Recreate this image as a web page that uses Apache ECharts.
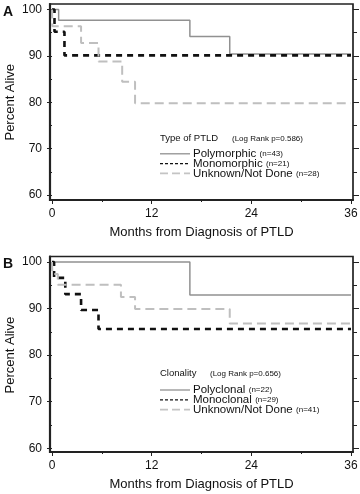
<!DOCTYPE html>
<html><head><meta charset="utf-8">
<script src="https://cdn.jsdelivr.net/npm/echarts@6/dist/echarts.min.js"></script>
<style>html,body{margin:0;padding:0;background:#fff}#c{width:360px;height:494px}</style>
</head><body><div id="c"></div>
<script>
// ---- Data ----
// Panel A: Type of PTLD
const polyA_t = [0, 0.8, 16.6, 21.4, 36];
const polyA_s = [100, 97.7, 94.2, 90.4, 90.4];
const monoA_t = [0, 0.3, 1.5, 36];
const monoA_s = [100, 95.2, 90.1, 90.1];
const unkA_t = [0, 0.05, 3.5, 5.6, 8.45, 10.0, 36];
const unkA_s = [100, 96.4, 92.8, 88.8, 84.4, 79.8, 79.8];
// Panel B: Clonality
const polyB_t = [0, 16.6, 36];
const polyB_s = [100, 92.9, 92.9];
const monoB_t = [0, 0.25, 1.6, 3.5, 5.6, 36];
const monoB_s = [100, 96.6, 93.1, 89.7, 85.6, 85.6];
const unkB_t = [0, 0.05, 0.7, 8.3, 10.0, 21.4, 36];
const unkB_s = [100, 97.4, 95.1, 92.5, 89.9, 86.8, 86.8];
// Legend text
const namesA = ['Polymorphic', 'Monomorphic', 'Unknown/Not Done'];
const countsA = ['(n=43)', '(n=21)', '(n=28)'];
const namesB = ['Polyclonal', 'Monoclonal', 'Unknown/Not Done'];
const countsB = ['(n=22)', '(n=29)', '(n=41)'];
const titleA = 'Type of PTLD', pvalA = '(Log Rank p=0.586)';
const titleB = 'Clonality', pvalB = '(Log Rank p=0.656)';
const xTitle = 'Months from Diagnosis of PTLD';
const yTitle = 'Percent Alive';
const xMin = 0, xMax = 36, xInterval = 12;
const yMin = 60, yMax = 100, yInterval = 10;

const FONT = '"Liberation Sans", Arial, Helvetica, sans-serif';
const pair = (t, s) => t.map((v, i) => [v, s[i]]);

const styles = [
  { color: '#919191', width: 1.5, type: 'solid' },
  { color: '#111111', width: 2.6, type: [6, 5] },
  { color: '#bfbfbf', width: 2, type: [9, 5] }
];
const legendStyles = [
  { stroke: '#919191', lineWidth: 1.3, lineDash: null },
  { stroke: '#111111', lineWidth: 1.3, lineDash: [3, 2] },
  { stroke: '#c4c4c4', lineWidth: 1.8, lineDash: [8, 4] }
];

// panel layout (pixels)
const panels = [
  { top: 9.5, height: 185.5, frameTop: 4, frameBot: 200 },
  { top: 262, height: 186.3, frameTop: 256.5, frameBot: 452 }
];
const gLeft = 52, gWidth = 299, frameL = 50, frameR = 353;

const grids = panels.map(p => ({ left: gLeft, top: p.top, width: gWidth, height: p.height, containLabel: false, outerBoundsMode: 'none' }));

const xAxes = panels.map((p, i) => ({
  type: 'value', gridIndex: i, min: xMin, max: xMax, interval: xInterval,
  position: 'bottom', offset: p.frameBot - (p.top + p.height),
  axisLine: { show: false },
  axisTick: { show: true, length: 4, lineStyle: { color: '#222', width: 1 } },
  minorTick: { show: true, splitNumber: 2, length: 2, lineStyle: { color: '#222', width: 1 } },
  splitLine: { show: false },
  axisLabel: { fontSize: 12, color: '#111', fontFamily: FONT, margin: 8 },
  name: xTitle, nameLocation: 'middle', nameGap: 26, nameMoveOverlap: false,
  nameTextStyle: { fontSize: 13, color: '#111', fontFamily: FONT }
}));

const yAxes = [];
panels.forEach((p, i) => {
  yAxes.push({
    type: 'value', gridIndex: i, min: yMin, max: yMax, interval: yInterval,
    position: 'left', offset: gLeft - frameL,
    axisLine: { show: false },
    axisTick: { show: true, length: 5, lineStyle: { color: '#222', width: 1 } },
    minorTick: { show: true, splitNumber: 2, length: 3, lineStyle: { color: '#222', width: 1 } },
    splitLine: { show: false },
    axisLabel: { fontSize: 12, color: '#111', fontFamily: FONT, margin: 8 },
    name: yTitle, nameLocation: 'middle', nameGap: 33, nameMoveOverlap: false,
    nameTextStyle: { fontSize: 13, color: '#111', fontFamily: FONT }
  });
  yAxes.push({
    type: 'value', gridIndex: i, min: yMin, max: yMax, interval: yInterval,
    position: 'right', offset: frameR - (gLeft + gWidth),
    axisLine: { show: false },
    axisTick: { show: true, length: 6, lineStyle: { color: '#222', width: 1 } },
    minorTick: { show: true, splitNumber: 2, length: 4, lineStyle: { color: '#222', width: 1 } },
    splitLine: { show: false },
    axisLabel: { show: false }
  });
});

const dataSets = [
  [pair(polyA_t, polyA_s), pair(monoA_t, monoA_s), pair(unkA_t, unkA_s)],
  [pair(polyB_t, polyB_s), pair(monoB_t, monoB_s), pair(unkB_t, unkB_s)]
];
const nameSets = [namesA, namesB];
const series = [];
const drawOrder = [2, 0, 1];
dataSets.forEach((ds, pi) => {
  drawOrder.forEach(k => {
    series.push({
      type: 'line', name: nameSets[pi][k], step: 'end',
      xAxisIndex: pi, yAxisIndex: pi * 2,
      data: ds[k], symbol: 'none', clip: false, silent: true,
      lineStyle: { color: styles[k].color, width: styles[k].width, type: styles[k].type },
      z: 2 + k
    });
  });
});

// legend + frames as graphic elements
const graphic = [];
const legendCfg = [
  { titleY: 138, pvalX: 232, rows: [153.8, 163.6, 173.4], names: namesA, counts: countsA, title: titleA, pval: pvalA, label: 'A', labelY: 12 },
  { titleY: 373.5, pvalX: 210, rows: [390, 399.8, 409.6], names: namesB, counts: countsB, title: titleB, pval: pvalB, label: 'B', labelY: 264 }
];
panels.forEach((p, i) => {
  const L = legendCfg[i];
  graphic.push({ type: 'rect', z: 10, shape: { x: frameL, y: p.frameTop, width: frameR - frameL, height: p.frameBot - p.frameTop },
    style: { fill: 'none', stroke: '#222', lineWidth: 1.7 } });
  graphic.push({ type: 'line', z: 10, shape: { x1: frameL, y1: p.frameTop - 0.8, x2: frameL, y2: p.frameBot + 1 }, style: { stroke: '#222', lineWidth: 2.2 } });
  graphic.push({ type: 'line', z: 10, shape: { x1: frameL - 1, y1: p.frameBot, x2: frameR + 0.8, y2: p.frameBot }, style: { stroke: '#222', lineWidth: 2.2 } });
  graphic.push({ type: 'text', z: 10, style: { text: L.label, x: 3, y: L.labelY, verticalAlign: 'middle', font: 'bold 14px ' + FONT, fill: '#111' } });
  graphic.push({ type: 'text', z: 10, style: { text: L.title, x: 160, y: L.titleY, verticalAlign: 'middle', font: '9.5px ' + FONT, fill: '#111' } });
  graphic.push({ type: 'text', z: 10, style: { text: L.pval, x: L.pvalX, y: L.titleY + 0.5, verticalAlign: 'middle', font: '8px ' + FONT, fill: '#111' } });
  L.rows.forEach((ry, k) => {
    graphic.push({ type: 'line', z: 10, shape: { x1: 160, y1: ry, x2: 190, y2: ry },
      style: { stroke: legendStyles[k].stroke, lineWidth: legendStyles[k].lineWidth, lineDash: legendStyles[k].lineDash } });
    graphic.push({ type: 'text', z: 10, style: {
      text: '{a|' + L.names[k] + '} {b|' + L.counts[k] + '}', x: 193, y: ry, verticalAlign: 'middle',
      rich: { a: { fontSize: 11.5, lineHeight: 11, fontFamily: FONT, fill: '#111', color: '#111' }, b: { fontSize: 8, lineHeight: 11, fontFamily: FONT, fill: '#111', color: '#111' } }
    } });
  });
});

const chart = echarts.init(document.getElementById('c'), null, { renderer: 'canvas' });
chart.setOption({
  animation: false,
  backgroundColor: '#fff',
  textStyle: { fontFamily: FONT },
  grid: grids,
  xAxis: xAxes,
  yAxis: yAxes,
  series: series,
  graphic: graphic
});
</script>
</body></html>
